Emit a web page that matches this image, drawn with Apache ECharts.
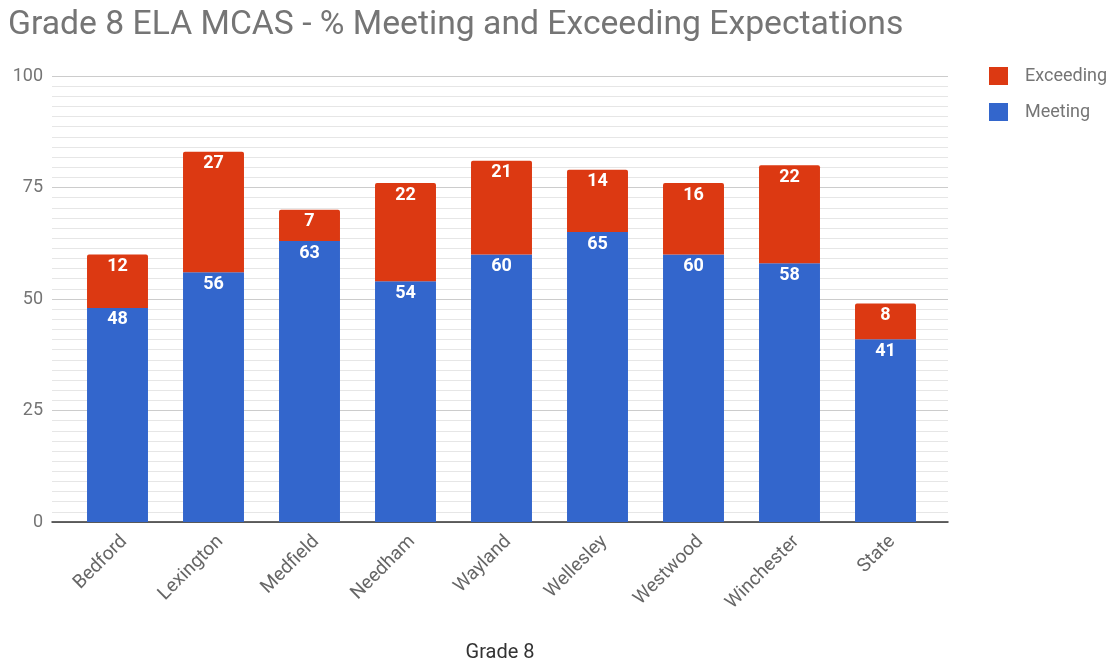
<!DOCTYPE html>
<html>
<head>
<meta charset="utf-8">
<script src="https://cdn.jsdelivr.net/npm/echarts@6/dist/echarts.min.js"></script>
<style>html,body{margin:0;padding:0;background:#fff;}#c{width:1120px;height:661px;}</style>
</head>
<body>
<div id="c"></div>
<script>
const categories = ['Bedford','Lexington','Medfield','Needham','Wayland','Wellesley','Westwood','Winchester','State'];
const meeting = [48,56,63,54,60,65,60,58,41];
const exceeding = [12,27,7,22,21,14,16,22,8];
const yTicks = [0,25,50,75,100];

const chart = echarts.init(document.getElementById('c'));
const labelStyle = {show:true, position:'insideTop', distance:3, color:'#fff', fontWeight:'bold', fontSize:18, fontFamily:'Roboto'};
const yMin = yTicks[0], yMax = yTicks[yTicks.length-1];
chart.setOption({
  animation:false,
  title:{text:'Grade 8 ELA MCAS - % Meeting and Exceeding Expectations', left:3, top:9, padding:[0,0,0,5],
    textStyle:{fontFamily:'Roboto', fontSize:33.7, fontWeight:'normal', color:'#757575'}},
  legend:{orient:'vertical', left:989, top:67, padding:0, itemWidth:19, itemHeight:18, itemGap:18, icon:'rect',
    data:['Exceeding','Meeting'], textStyle:{fontFamily:'Roboto', fontSize:18, color:'#757575', padding:[0,0,0,12]}},
  grid:[
    {left:52, right:172, top:76, bottom:139, outerBoundsMode:'none', containLabel:false},
    {left:69.5, right:186.5, top:76, bottom:139, outerBoundsMode:'none', containLabel:false}
  ],
  xAxis:[
    {type:'category', gridIndex:0, data:categories, name:'Grade 8', nameLocation:'middle', nameGap:121,
      nameTextStyle:{fontFamily:'Roboto', fontSize:20, color:'#333'},
      axisLine:{lineStyle:{color:'#333', width:1.5}}, axisTick:{show:false}, axisLabel:{show:false}},
    {type:'category', gridIndex:1, data:categories,
      axisLine:{show:false}, axisTick:{show:false},
      axisLabel:{rotate:45, verticalAlign:'top', fontFamily:'Roboto', fontSize:19, color:'#666', margin:10}}
  ],
  yAxis:[
    {type:'value', gridIndex:0, min:yMin, max:yMax, interval:25,
      axisLine:{show:false}, axisTick:{show:false},
      axisLabel:{fontFamily:'Roboto', fontSize:18, color:'#757575', margin:9},
      splitLine:{lineStyle:{color:'#cccccc'}},
      minorTick:{show:false, splitNumber:11},
      minorSplitLine:{show:true, lineStyle:{color:'#e6e6e6'}}},
    {type:'value', gridIndex:1, min:yMin, max:yMax, interval:25, show:false, splitLine:{show:false}}
  ],
  series:[
    {name:'Meeting', type:'bar', xAxisIndex:1, yAxisIndex:1, stack:'a', data:meeting, barWidth:'63.5%', itemStyle:{color:'#3366cc'}, label:labelStyle},
    {name:'Exceeding', type:'bar', xAxisIndex:1, yAxisIndex:1, stack:'a', data:exceeding, barWidth:'63.5%', itemStyle:{color:'#dc3912', borderRadius:[2,2,0,0]}, label:labelStyle}
  ]
});
</script>
</body>
</html>
